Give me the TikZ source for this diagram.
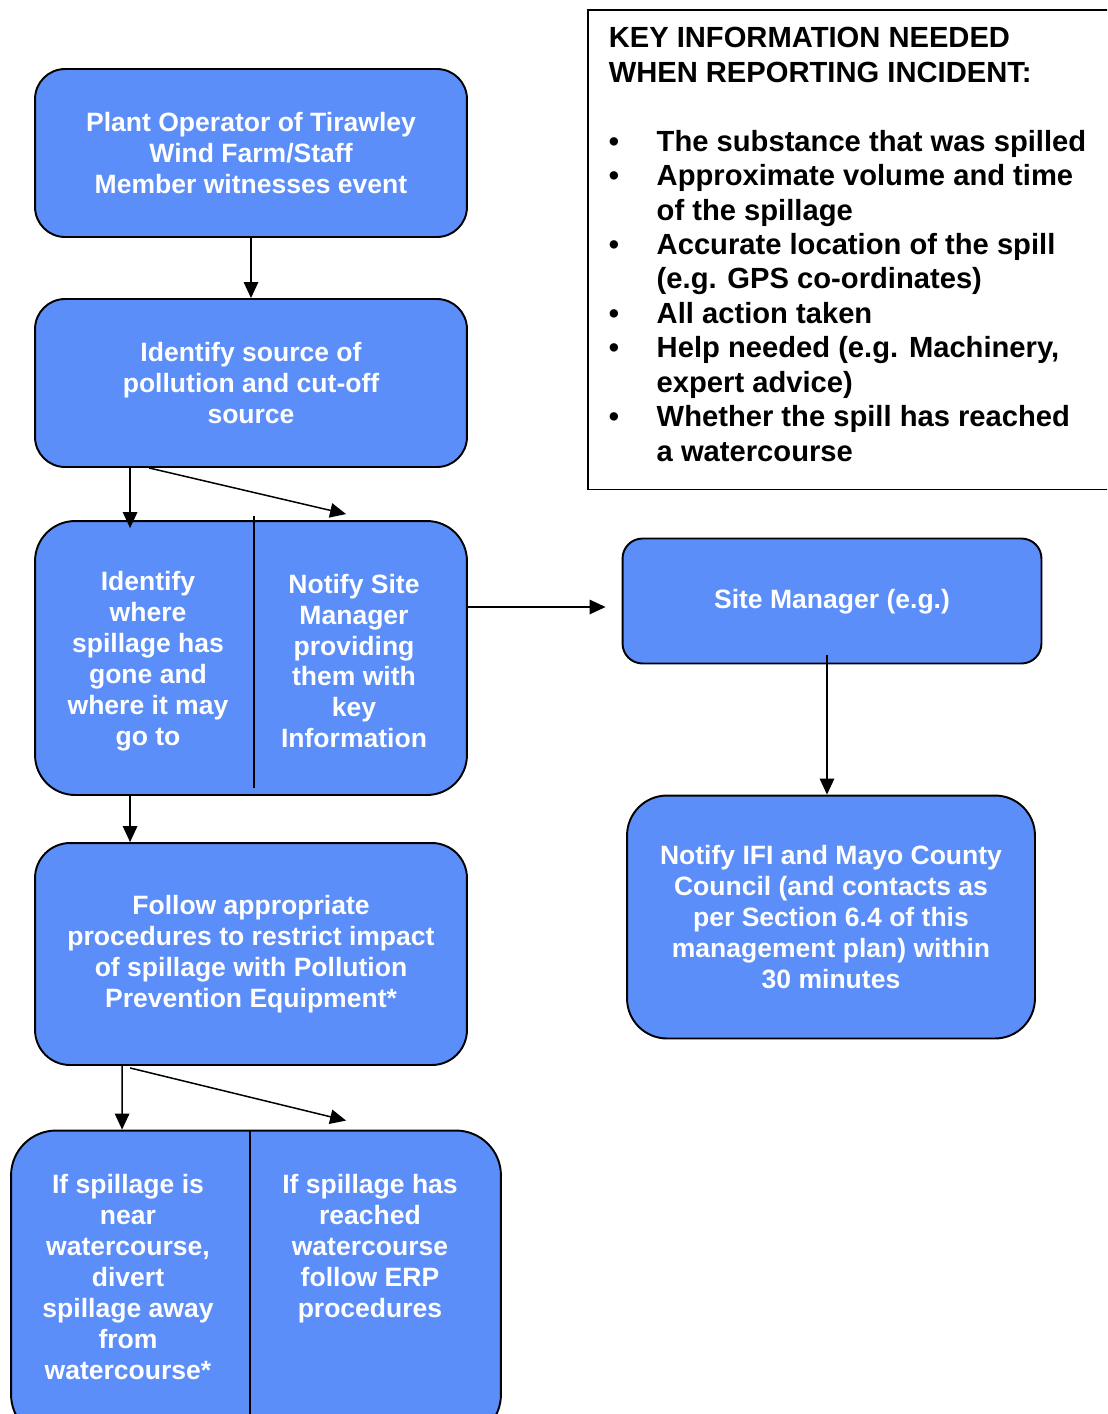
\documentclass[tikz,border=0pt]{standalone}
\usepackage{fontspec}
\setmainfont{Liberation Sans}
\usetikzlibrary{calc, arrows.meta}
\definecolor{flowblue}{RGB}{91,142,249}
\tikzset{ b/.style = { rectangle
                       , draw
                       , line width      = 1.1pt
                       , fill            = flowblue
                       , rounded corners = 0.6cm
                       , inner sep       = 0pt
                       },
            t/.style = { text      = white
            , align     = center
            , inner sep = 0pt
            , font      = \bfseries\fontsize{15.1}{17.6}\selectfont
            }
          }

\begin{document}
\begin{tikzpicture}[x=0.02cm, y=-0.02cm, line width=0.85pt,
            >={Triangle[length=0.32cm, width=0.29cm]}]
            \useasboundingbox (0,0) rectangle (1107,1414);
            \clip (0,0) rectangle (1107,1414);
            % left column
            \node[b, t, minimum width=8.64cm, minimum height=3.36cm] (op) at (251,153)
                {Plant Operator of Tirawley\\Wind Farm/Staff\\Member witnesses event};
            \node[b, t, minimum width=8.64cm, minimum height=3.36cm] (src) at (251,383)
                {Identify source of\\pollution and cut-off\\source};
            \node[b, minimum width=8.64cm, minimum height=5.48cm, rounded corners=0.8cm] (spill) at (251,658) {};
            \node[t] (where) at (148,661)
                {Identify\\where\\spillage has\\gone and\\where it may\\go to};
            \node[t] (notify) at (354,661)
                {Notify Site\\Manager\\providing\\them with\\key\\Information};
            \node[b, t, minimum width=8.64cm, minimum height=4.44cm, rounded corners=0.7cm] (follow) at (251,954)
                {Follow appropriate\\procedures to restrict impact\\of spillage with Pollution\\Prevention Equipment*};
            \node[b, minimum width=9.8cm, minimum height=6.18cm, rounded corners=0.9cm] (water) at (256,1285) {};
            \node[t, anchor=north] (near) at (128,1174)
                {If spillage is\\near\\watercourse,\\divert\\spillage away\\from\\watercourse*};
            \node[t, anchor=north] (reached) at (370,1174)
                {If spillage has\\reached\\watercourse\\follow ERP\\procedures};
            % right column
            \node[b, t, minimum width=8.38cm, minimum height=2.5cm, rounded corners=0.4cm,
                  text height=11pt, text depth=2pt] (mgr) at (832,601)
                {Site Manager (e.g.)};
            \node[b, t, minimum width=8.16cm, minimum height=4.86cm, rounded corners=0.8cm] (ifi) at (831,917)
                {Notify IFI and Mayo County\\Council (and contacts as\\per Section 6.4 of this\\management plan) within\\30 minutes};
            \node[draw, line width=0.9pt, minimum width=10.46cm, minimum height=9.6cm, anchor=north west] (key) at (587,9) {};
            \node[anchor=north west, inner sep=0pt, font=\bfseries\fontsize{16.6}{19.6}\selectfont] (info) at (608,23)
                {\begin{tabular}{@{}p{0.96cm}@{}l@{}}
                 \multicolumn{2}{@{}l@{}}{KEY INFORMATION NEEDED}\\
                 \multicolumn{2}{@{}l@{}}{WHEN REPORTING INCIDENT:}\\
                 & \\
                 \textbullet & The substance that was spilled\\
                 \textbullet & Approximate volume and time\\
                 & of the spillage\\
                 \textbullet & Accurate location of the spill\\
                 & (e.g. GPS co-ordinates)\\
                 \textbullet & All action taken\\
                 \textbullet & Help needed (e.g. Machinery,\\
                 & expert advice)\\
                 \textbullet & Whether the spill has reached\\
                 & a watercourse
                 \end{tabular}};
            % connectors
            \draw[->] (op) -- (src);
            \draw[->, shorten >=-0.16cm] ($(src.south west)+(96,0)$) -- ($(spill.north west)+(96,0)$);
            \draw[->] ($(src.south west)+(115,0)$) -- ($(spill.north west)+(312,-6)$);
            \draw ($(spill.north west)+(220,-4)$) -- ($(spill.south west)+(220,-8)$);
            \draw[->, shorten >=0.32cm] ($(spill.east |- mgr.west)+(0,6)$) -- ($(mgr.west)+(0,6)$);
            \draw[->] ($(mgr.south)+(-5,-9)$) -- ($(ifi.north)+(-4,0)$);
            \draw[->] ($(spill.south west)+(96,0)$) -- ($(follow.north west)+(96,0)$);
            \draw[->] ($(follow.south west)+(88,0)$) -- ($(water.north west)+(112,0)$);
            \draw[->] ($(follow.south west)+(96,2)$) -- ($(water.north west)+(336,-9)$);
            \draw ($(water.north west)+(240,0)$) -- ($(water.south west)+(240,0)$);
\end{tikzpicture}
\end{document}
